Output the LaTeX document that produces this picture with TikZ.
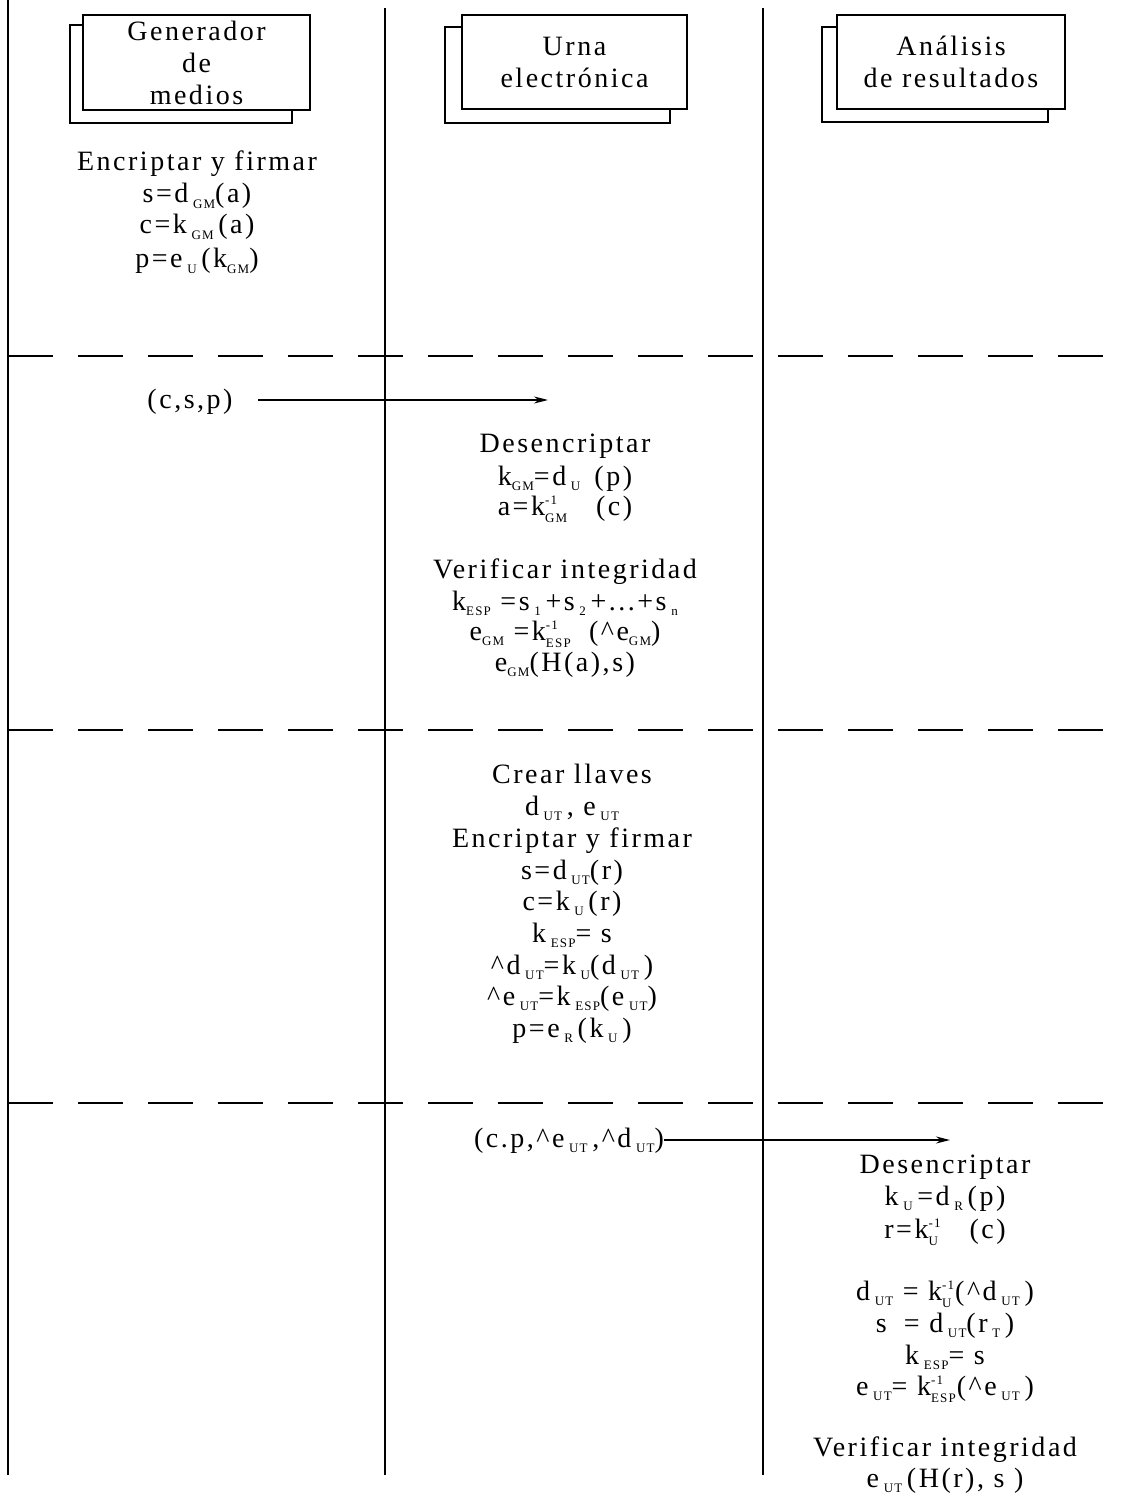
\documentclass[tikz,border=0pt]{standalone}
\usepackage{fontspec}
\setmainfont{Liberation Serif}[LetterSpace=9]
\usetikzlibrary{arrows.meta}
\newcommand{\lsub}[1]{\raisebox{-0.45ex}{\fontsize{6.5}{6.5}\selectfont #1}}
\newcommand{\lud}[2]{$^{\mbox{\fontsize{6.5}{6.5}\selectfont #1}}_{\mbox{\fontsize{6.5}{6.5}\selectfont #2}}$}
\newcommand{\crt}{\textasciicircum}
\begin{document}
\begin{tikzpicture}[x=0.5pt,y=-0.5pt,
  txt/.style={anchor=base,inner sep=0pt,font=\fontsize{14}{16}\selectfont},
  frontbox/.style={draw,line width=1pt,fill=white,align=center,inner sep=0pt,
    font=\fontsize{14}{16}\selectfont},
  backbox/.style={draw,line width=1pt,fill=white,inner sep=0pt},
  lane/.style={line width=1pt},
  sep/.style={line width=1pt,dash pattern=on 22.5pt off 12.5pt},
  arr/.style={line width=0.9pt,-{Stealth[length=7pt,width=3.5pt]}}]
\useasboundingbox (0,0) rectangle (1128,1497);
% lanes
\coordinate (l1t) at (8,0);   \coordinate (l1b) at (8,1475);
\coordinate (l2t) at (385,8); \coordinate (l2b) at (385,1475);
\coordinate (l3t) at (763,8); \coordinate (l3b) at (763,1475);
\draw[lane] (l1t) -- (l1b);
\draw[lane] (l2t) -- (l2b);
\draw[lane] (l3t) -- (l3b);
% separators
\coordinate (s1l) at (8,356);  \coordinate (s1r) at (1128,356);
\coordinate (s2l) at (8,730);  \coordinate (s2r) at (1128,730);
\coordinate (s3l) at (8,1103); \coordinate (s3r) at (1128,1103);
\draw[sep] (s1l) -- (s1r);
\draw[sep] (s2l) -- (s2r);
\draw[sep] (s3l) -- (s3r);
% header boxes
\node[backbox,minimum width=111pt,minimum height=49pt] (gmb) at (181,74) {};
\node[frontbox,minimum width=113.5pt,minimum height=47.5pt] (gm) at (196.5,62.5) {Generador\\de\\medios};
\node[backbox,minimum width=112.5pt,minimum height=48pt] (ueb) at (557.5,75) {};
\node[frontbox,minimum width=112.5pt,minimum height=47pt] (ue) at (574.5,62) {Urna\\electrónica};
\node[backbox,minimum width=113pt,minimum height=47.5pt] (arb) at (935,74.5) {};
\node[frontbox,minimum width=114pt,minimum height=47pt] (ar) at (951,62) {Análisis\\de resultados};
% section 1
\node[txt] (a1) at (197,171) {Encriptar y firmar};
\node[txt] (a2) at (197,203) {s=d\,\lsub{GM}(a)};
\node[txt] (a3) at (197,234) {c=k\,\lsub{GM}\,(a)};
\node[txt] (a4) at (197,268) {p=e\,\lsub{U}\,(k\lsub{GM})};
% section 2
\node[txt] (csp) at (190,409) {(c,s,p)};
\coordinate (m1s) at (258,400);
\coordinate (m1e) at (548,400);
\draw[arr] (m1s) -- (m1e);
\node[txt] (b1) at (565,452) {Desencriptar};
\node[txt] (b2) at (565,485) {k\lsub{GM}=d\,\lsub{U}\, (p)};
\node[txt] (b3) at (565,515) {a=k\lud{-1}{GM}\quad (c)};
\node[txt] (b4) at (565,578) {Verificar integridad};
\node[txt] (b5) at (565,610) {k\lsub{ESP} =s\,\lsub{1}\,+s\,\lsub{2}\,+...+s\,\lsub{n}};
\node[txt] (b6) at (565,640) {e\lsub{GM} =k\lud{-1}{ESP}\; (\crt e\lsub{GM})};
\node[txt] (b7) at (565,671) {e\lsub{GM}(H(a),s)};
% section 3
\node[txt] (c1) at (572,783) {Crear llaves};
\node[txt] (c2) at (572,815) {d\,\lsub{UT}\,, e\,\lsub{UT}};
\node[txt] (c3) at (572,847) {Encriptar y firmar};
\node[txt] (c4) at (572,879) {s=d\,\lsub{UT}(r)};
\node[txt] (c5) at (572,910) {c=k\,\lsub{U}\,(r)};
\node[txt] (c6) at (572,942) {k\,\lsub{ESP}= s};
\node[txt] (c7) at (572,974) {\crt d\,\lsub{UT}=k\,\lsub{U}(d\,\lsub{UT}\,)};
\node[txt] (c8) at (572,1005) {\crt e\,\lsub{UT}=k\,\lsub{ESP}(e\,\lsub{UT})};
\node[txt] (c9) at (572,1037) {p=e\,\lsub{R}\,(k\,\lsub{U}\,)};
% section 4
\node[txt] (msg) at (569,1147) {(c.p,\crt e\,\lsub{UT}\,,\crt d\,\lsub{UT})};
\coordinate (m2e) at (950,1140);
\draw[arr] (msg.east |- m2e) -- (m2e);
\node[txt] (d1) at (945,1173) {Desencriptar};
\node[txt] (d2) at (945,1205) {k\,\lsub{U}\,=d\,\lsub{R}\,(p)};
\node[txt] (d3) at (945,1238) {r=k\lud{-1}{U}\quad (c)};
\node[txt] (d4) at (945,1300) {d\,\lsub{UT} = k\lud{-1}{U}(\crt d\,\lsub{UT}\,)};
\node[txt] (d5) at (945,1332) {s \;= d\,\lsub{UT}(r\,\lsub{T}\,)};
\node[txt] (d6) at (945,1364) {k\,\lsub{ESP}= s};
\node[txt] (d7) at (945,1395) {e\,\lsub{UT}= k\lud{-1}{ESP}(\crt e\,\lsub{UT}\,)};
\node[txt] (d8) at (945,1456) {Verificar integridad};
\node[txt] (d9) at (945,1487) {e\,\lsub{UT}\,(H(r), s )};
\end{tikzpicture}
\end{document}
